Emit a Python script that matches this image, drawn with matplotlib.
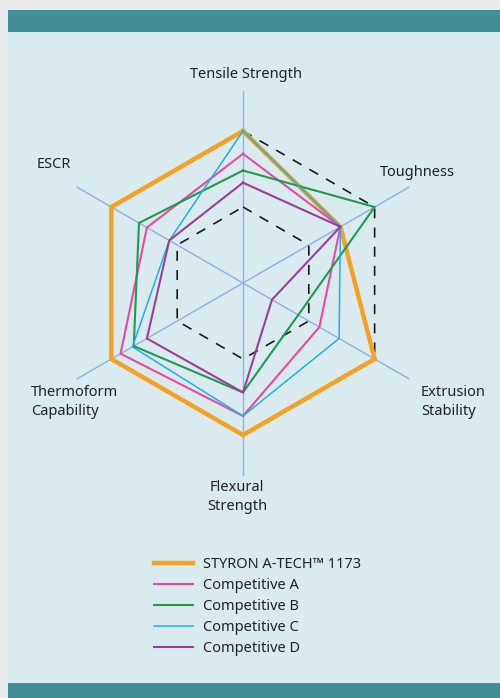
"""Radar chart: STYRON A-TECH 1173 against competitive grades."""

import numpy as np
import matplotlib
matplotlib.use("Agg")
import matplotlib.pyplot as plt
from matplotlib.patches import Rectangle

plt.rcParams["font.family"] = ["Noto Sans", "DejaVu Sans"]

# axes order goes clockwise from the top
CATEGORIES = ["Tensile Strength", "Toughness", "Extrusion\nStability",
              "Flexural\nStrength", "Thermoform\nCapability", "ESCR"]
ANGLES_DEG = [90, 30, -30, -90, -150, 150]

SERIES_NAMES = ["STYRON A-TECH\u2122 1173", "Competitive A", "Competitive B",
                "Competitive C", "Competitive D"]
STYRON = [10, 7.4, 10, 10, 10, 10]
COMP_A = [8.5, 7.4, 5.8, 8.75, 9.3, 7.3]
COMP_B = [7.4, 10, 4.2, 7.2, 8.3, 7.9]
COMP_C = [10, 7.4, 7.3, 8.75, 8.4, 5.6]
COMP_D = [6.6, 7.4, 2.2, 7.2, 7.3, 5.6]
GRID_LEVELS = [5, 10]
SCALE_MAX = 10

COLORS = ["#f7a124", "#ea4a9b", "#1f9a50", "#1fb0e6", "#9d3d97"]
WIDTHS = [3.2, 1.5, 1.5, 1.1, 1.5]

PANEL = "#daebef"
TEAL = "#418e98"
BACKDROP = "#e9eaeb"
AXIS_BLUE = "#8db2e6"
TEXT = "#222222"

W, H = 500, 698
CX, CY, UNIT = 243, 283, 15.2  # pixel centre and pixels per value unit


def _xy(values):
    ang = np.deg2rad(ANGLES_DEG + ANGLES_DEG[:1])
    vals = np.asarray(list(values) + [values[0]], dtype=float)
    return vals * np.cos(ang), vals * np.sin(ang)


fig = plt.figure(figsize=(W / 100, H / 100), dpi=100)
fig.patch.set_facecolor(BACKDROP)
fig.patches.extend([
    Rectangle((8 / W, 15 / H), 1 - 8 / W, (H - 32 - 15) / H, transform=fig.transFigure,
              facecolor=PANEL, edgecolor="none", zorder=-2),
    Rectangle((8 / W, (H - 32) / H), 1 - 8 / W, 22 / H, transform=fig.transFigure,
              facecolor=TEAL, edgecolor="none", zorder=-2),
    Rectangle((8 / W, 0), 1 - 8 / W, 15 / H, transform=fig.transFigure,
              facecolor=TEAL, edgecolor="none", zorder=-2),
])

top_px, bottom_px = 32, 530
ax = fig.add_axes([0, (H - bottom_px) / H, 1, (bottom_px - top_px) / H])
ax.set_xlim(-CX / UNIT, (W - CX) / UNIT)
ax.set_ylim(-(bottom_px - CY) / UNIT, (CY - top_px) / UNIT)
ax.axis("off")
ax.patch.set_alpha(0)

# spokes
for deg in ANGLES_DEG:
    a = np.deg2rad(deg)
    r = SCALE_MAX * 1.26
    ax.plot([0, r * np.cos(a)], [0, r * np.sin(a)], color=AXIS_BLUE, lw=1.0, zorder=1)

# dashed hexagon grid
for level in GRID_LEVELS:
    gx, gy = _xy([level] * len(CATEGORIES))
    ax.plot(gx, gy, color="#1a1a1a", lw=1.2, linestyle=(0, (6, 5.5)), zorder=2)

handles = []
for i, (name, vals) in enumerate(zip(SERIES_NAMES, [STYRON, COMP_A, COMP_B, COMP_C, COMP_D])):
    sx, sy = _xy(vals)
    (line,) = ax.plot(sx, sy, color=COLORS[i], lw=WIDTHS[i], label=name,
                      solid_joinstyle="miter", zorder=3 + i)
    handles.append(line)

# category labels (pixel positions converted to value units)
label_pos = [
    ((245.5 - CX) / UNIT, (CY - 74) / UNIT, "center"),
    ((417 - CX) / UNIT, (CY - 172) / UNIT, "center"),
    ((421 - CX) / UNIT, (CY - 402) / UNIT, "left"),
    ((237 - CX) / UNIT, (CY - 497) / UNIT, "center"),
    ((31 - CX) / UNIT, (CY - 402) / UNIT, "left"),
    ((54 - CX) / UNIT, (CY - 164) / UNIT, "center"),
]
for text, (lx, ly, ha) in zip(CATEGORIES, label_pos):
    ax.text(lx, ly, text, ha=ha, va="center", multialignment=ha,
            fontsize=10.5, color=TEXT, linespacing=1.3)

fig.legend(handles, SERIES_NAMES, loc="upper left",
           bbox_to_anchor=(154 / W, 1 - 557 / H), frameon=False,
           fontsize=10.5, handlelength=2.7, handletextpad=0.65,
           labelspacing=0.42, borderpad=0, borderaxespad=0, labelcolor=TEXT)

fig.savefig("out.png", dpi=100, facecolor=fig.get_facecolor())
